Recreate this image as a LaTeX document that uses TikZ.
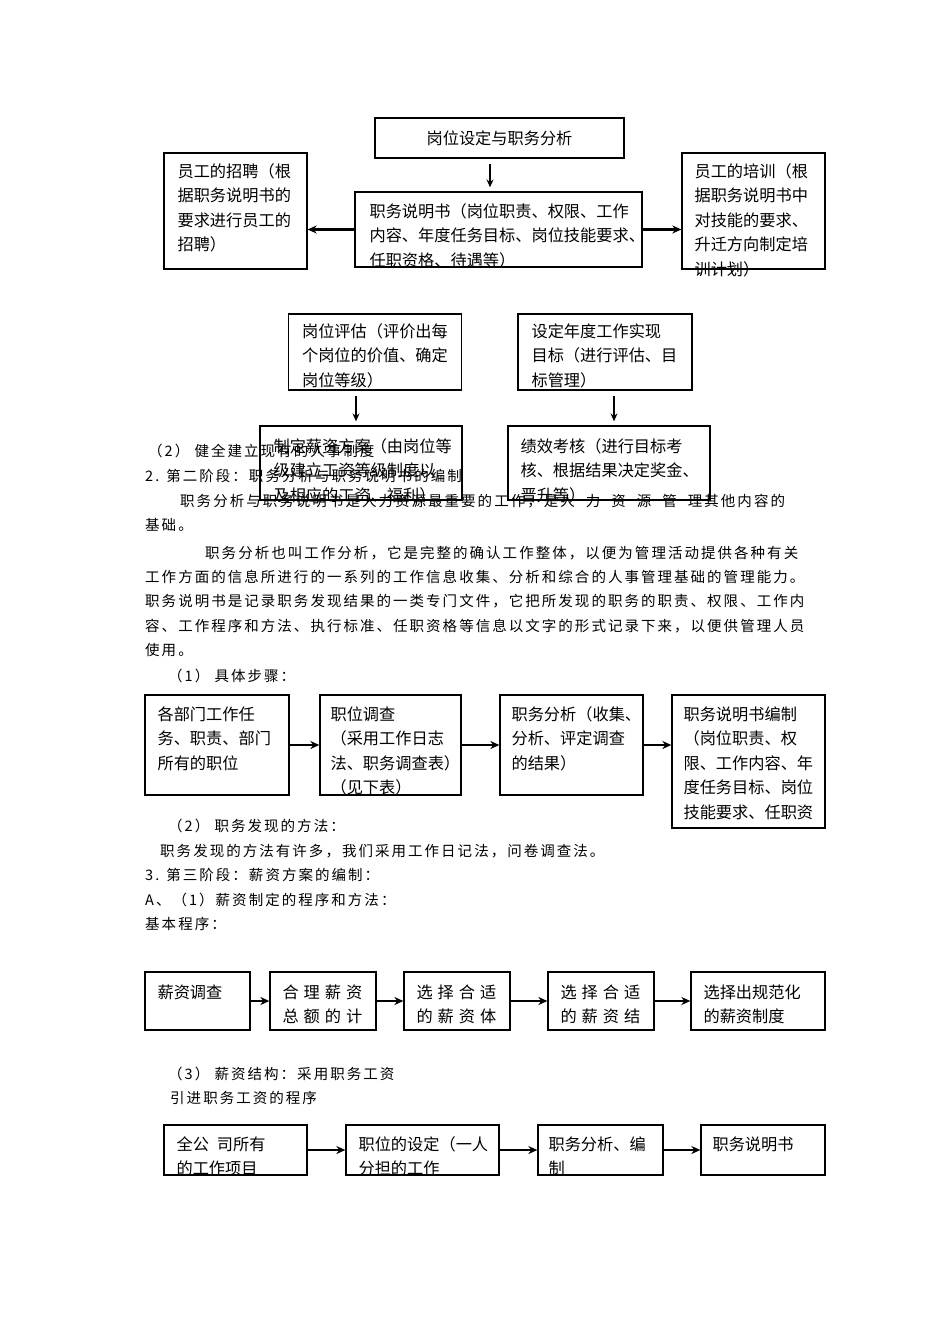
\documentclass[tikz,border=0pt]{standalone}
\usepackage{fontspec}
\setmainfont{Noto Sans CJK SC}
\newfontfamily\zhbox{Noto Sans CJK SC}
\newfontfamily\zhbody[LetterSpace=14]{Noto Sans CJK SC}
\usetikzlibrary{arrows.meta,positioning}

\begin{document}
\begin{tikzpicture}[x=1pt, y=-1pt, inner sep=0pt]
    \tikzstyle{kuang}=[rectangle, draw=black, line width=1.3pt]
    \tikzstyle{wz}=[anchor=north west, align=left, font=\zhbox\fontsize{16.2}{24.5}\selectfont]
    \tikzstyle{hang}=[anchor=west, font=\zhbody\fontsize{14.5}{24}\selectfont]
    \tikzstyle{jt}=[-{Stealth[length=9pt, width=8pt]}, line width=2.2pt]
    \tikzstyle{jtx}=[-{Stealth[length=8pt, width=7pt]}, line width=1.1pt, shorten <=5pt, shorten >=4pt]

    \fill[white] (0,0) rectangle (950,1344);
    \useasboundingbox (0,0) rectangle (950,1344);

    % first chart
    \node[kuang, minimum width=249pt, minimum height=40pt, font=\zhbox\fontsize{16.2}{20}\selectfont] (T0) at (499.5,138) {岗位设定与职务分析};
    \node[kuang, minimum width=287pt, minimum height=75pt] (T1) at (498.5,229.5) {};
    \node[kuang, minimum width=143pt, minimum height=116pt] (T2) at (235.5,211) {};
    \node[kuang, minimum width=143pt, minimum height=116pt] (T3) at (753.5,211) {};
    \node[wz] (T1t) at ([xshift=15pt, yshift=-12pt] T1.north west) {职务说明书（岗位职责、权限、工作\\内容、年度任务目标、岗位技能要求、\\任职资格、待遇等）};
    \node[wz] (T2t) at ([xshift=14pt, yshift=-11pt] T2.north west) {员工的招聘（根\\据职务说明书的\\要求进行员工的\\招聘）};
    \node[wz] (T3t) at ([xshift=13pt, yshift=-11pt] T3.north west) {员工的培训（根\\据职务说明书中\\对技能的要求、\\升迁方向制定培\\训计划）};

    \draw[jtx] ([xshift=-9.5pt] T0.south) to ([xshift=-9.5pt] T0.south |- T1.north);
    \draw[jt] (T1.west) to (T1.west -| T2.east);
    \draw[jt] (T1.east) to (T1.east -| T3.west);

    % second chart
    \node[kuang, minimum width=173pt, minimum height=76pt] (M1) at (375,352) {};
    \node[kuang, minimum width=174pt, minimum height=76pt] (M2) at (605,352) {};
    \node[kuang, minimum width=202pt, minimum height=74pt] (M3) at (361,463) {};
    \node[kuang, minimum width=202pt, minimum height=74pt] (M4) at (609,463) {};
    \node[wz] (M1t) at ([xshift=14pt, yshift=-10pt] M1.north west) {岗位评估（评价出每\\个岗位的价值、确定\\岗位等级）};
    \node[wz] (M2t) at ([xshift=14pt, yshift=-10pt] M2.north west) {设定年度工作实现\\目标（进行评估、目\\标管理）};
    \node[wz] (M3t) at ([xshift=14pt, yshift=-13pt] M3.north west) {制定薪资方案（由岗位等\\级建立工资等级制度以\\及相应的工资、福利）};
    \node[wz] (M4t) at ([xshift=13pt, yshift=-13pt] M4.north west) {绩效考核（进行目标考\\核、根据结果决定奖金、\\晋升等）};

    \draw[jtx] ([xshift=-19pt] M1.south) to ([xshift=-19pt] M1.south |- M3.north);
    \draw[jtx] ([xshift=9pt] M2.south) to ([xshift=9pt] M2.south |- M4.north);

    % text
    \node[hang] (L1) at (148,451) {（2） 健全建立现有的人事制度};
    \node[hang] (L2) at (145,476) {2. 第二阶段：职务分析与职务说明书的编制};
    \node[hang, execute at begin node={\spaceskip=11pt\relax}] (L3) at (180,501) {职务分析与职务说明书是人力资源最重要的工作，是人 力 资 源 管 理其他内容的};
    \node[hang] (L4) at (145,525) {基础。};
    \node[hang] (L5) at (205,553) {职务分析也叫工作分析，它是完整的确认工作整体，以便为管理活动提供各种有关};
    \node[hang] (L6) at (145,577) {工作方面的信息所进行的一系列的工作信息收集、分析和综合的人事管理基础的管理能力。};
    \node[hang] (L7) at (145,601) {职务说明书是记录职务发现结果的一类专门文件，它把所发现的职务的职责、权限、工作内};
    \node[hang] (L8) at (145,626) {容、工作程序和方法、执行标准、任职资格等信息以文字的形式记录下来，以便供管理人员};
    \node[hang] (L9) at (145,650) {使用。};
    \node[hang] (L10) at (168,676) {（1） 具体步骤：};

    % steps
    \node[kuang, minimum width=144pt, minimum height=100pt] (S1) at (217,745) {};
    \node[kuang, minimum width=141pt, minimum height=100pt] (S2) at (390.5,745) {};
    \node[kuang, minimum width=143pt, minimum height=100pt] (S3) at (571.5,745) {};
    \node[kuang, minimum width=153pt, minimum height=133pt] (S4) at (748.5,761.5) {};
    \node[wz] (S1t) at ([xshift=13pt, yshift=-12pt] S1.north west) {各部门工作任\\务、职责、部门\\所有的职位};
    \node[wz] (S2t) at ([xshift=11pt, yshift=-12pt] S2.north west) {职位调查\\（采用工作日志\\法、职务调查表）\\（见下表）};
    \node[wz] (S3t) at ([xshift=12pt, yshift=-12pt] S3.north west) {职务分析（收集、\\分析、评定调查\\的结果）};
    \node[wz] (S4t) at ([xshift=12pt, yshift=-12pt] S4.north west) {职务说明书编制\\（岗位职责、权\\限、工作内容、年\\度任务目标、岗位\\技能要求、任职资};

    \draw[jt] (S1.east) to (S2.west);
    \draw[jt] (S2.east) to (S3.west);
    \draw[jt] (S3.east) to (S3.east -| S4.west);

    \node[hang] (L11) at (168,826) {（2） 职务发现的方法：};
    \node[hang] (L12) at (160,851) {职务发现的方法有许多，我们采用工作日记法，问卷调查法。};
    \node[hang] (L13) at (145,875) {3. 第三阶段：薪资方案的编制：};
    \node[hang] (L14) at (145,900) {A、（1）薪资制定的程序和方法：};
    \node[hang] (L15) at (145,924) {基本程序：};

    % salary
    \node[kuang, minimum width=105pt, minimum height=58pt] (P1) at (197.5,1001) {};
    \node[kuang, minimum width=106pt, minimum height=58pt] (P2) at (323,1001) {};
    \node[kuang, minimum width=106pt, minimum height=58pt] (P3) at (457,1001) {};
    \node[kuang, minimum width=106pt, minimum height=58pt] (P4) at (601,1001) {};
    \node[kuang, minimum width=134pt, minimum height=58pt] (P5) at (758,1001) {};
    \node[wz] (P1t) at ([xshift=13pt, yshift=-13pt] P1.north west) {薪资调查};
    \node[wz, execute at begin node={\spaceskip=5pt\relax}] (P2t) at ([xshift=13pt, yshift=-13pt] P2.north west) {合 理 薪 资\\总 额 的 计};
    \node[wz, execute at begin node={\spaceskip=5pt\relax}] (P3t) at ([xshift=13pt, yshift=-13pt] P3.north west) {选 择 合 适\\的 薪 资 体};
    \node[wz, execute at begin node={\spaceskip=5pt\relax}] (P4t) at ([xshift=13pt, yshift=-13pt] P4.north west) {选 择 合 适\\的 薪 资 结};
    \node[wz] (P5t) at ([xshift=13pt, yshift=-13pt] P5.north west) {选择出规范化\\的薪资制度};

    \draw[jt] (P1.east) to (P2.west);
    \draw[jt] (P2.east) to (P3.west);
    \draw[jt] (P3.east) to (P4.west);
    \draw[jt] (P4.east) to (P5.west);

    \node[hang] (L16) at (168,1074) {（3） 薪资结构：采用职务工资};
    \node[hang] (L17) at (170,1098) {引进职务工资的程序};

    % job pay
    \node[kuang, minimum width=143pt, minimum height=50pt] (Q1) at (235.5,1150) {};
    \node[kuang, minimum width=153pt, minimum height=50pt] (Q2) at (422.5,1150) {};
    \node[kuang, minimum width=125pt, minimum height=50pt] (Q3) at (600.5,1150) {};
    \node[kuang, minimum width=124pt, minimum height=50pt] (Q4) at (763,1150) {};
    \node[wz, execute at begin node={\spaceskip=8pt\relax}] (Q1t) at ([xshift=13pt, yshift=-12pt] Q1.north west) {全公 司所有\\的工作项目};
    \node[wz] (Q2t) at ([xshift=13pt, yshift=-12pt] Q2.north west) {职位的设定（一人\\分担的工作};
    \node[wz] (Q3t) at ([xshift=11pt, yshift=-12pt] Q3.north west) {职务分析、编\\制};
    \node[wz] (Q4t) at ([xshift=12pt, yshift=-12pt] Q4.north west) {职务说明书};

    \draw[jt] (Q1.east) to (Q2.west);
    \draw[jt] (Q2.east) to (Q3.west);
    \draw[jt] (Q3.east) to (Q4.west);
\end{tikzpicture}
\end{document}
